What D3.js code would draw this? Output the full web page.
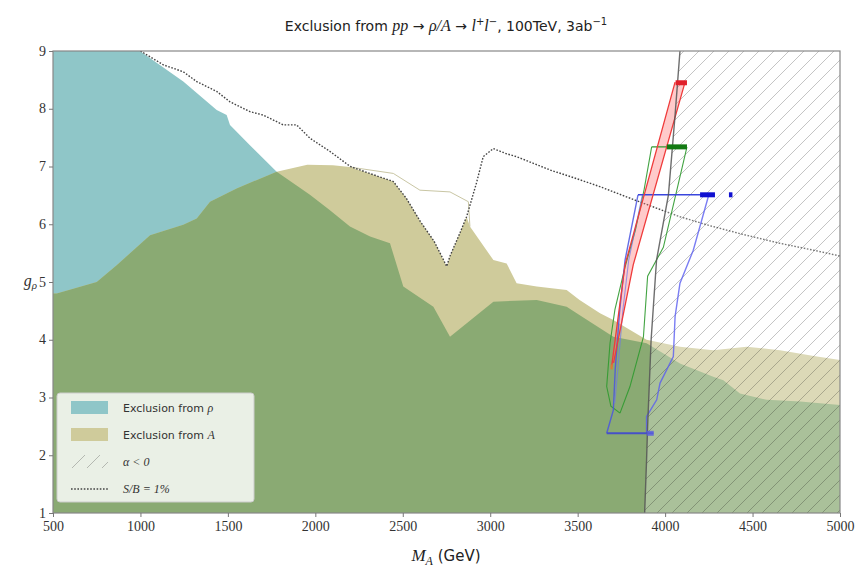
<!DOCTYPE html>
<html>
<head>
<meta charset="utf-8">
<script src="https://cdn.jsdelivr.net/npm/d3@7"></script>
<style>
  body { margin: 0; background: #fff; }
  svg { display: block; font-family: "DejaVu Sans", sans-serif; }
  .math { font-family: "Liberation Serif", serif; font-style: italic; }
</style>
</head>
<body>
<div id="container"></div>
<script>
// ---- data (M_A in GeV, coupling on y) ----
const xTicks = [500, 1000, 1500, 2000, 2500, 3000, 3500, 4000, 4500, 5000];
const yTicks = [1, 2, 3, 4, 5, 6, 7, 8, 9];

// exclusion from rho (upper edge of excluded band)
const rhoExcl = [[500,9],[997,9],[1245,8.47],[1436,7.98],[1493,7.89],[1512,7.72],[1626,7.37],[1779,6.91],
  [1870,6.72],[1969,6.51],[2080,6.25],[2198,5.96],[2313,5.79],[2427,5.67],[2503,4.92],[2675,4.57],[2770,4.05],
  [3018,4.66],[3266,4.69],[3437,4.57],[3550,4.35],[3704,4.05],[3894,3.94],[4085,3.59],[4275,3.36],[4333,3.30],
  [4428,3.07],[4581,2.96],[4772,2.93],[5000,2.87]];

// exclusion from A (filled edge, limited by S/B)
const aExcl = [[500,4.8],[521,4.8],[750,5.0],[864,5.29],[1055,5.81],[1245,5.99],[1322,6.1],[1398,6.39],[1550,6.62],
  [1779,6.91],[1954,7.03],[2100,7.02],[2198,6.99],[2320,6.87],[2446,6.74],[2520,6.45],[2600,6.05],[2680,5.7],
  [2730,5.4],[2751,5.27],[2770,5.45],[2820,5.8],[2865,6.13],[2884,5.96],[3018,5.38],[3094,5.32],[3151,4.98],
  [3266,4.92],[3437,4.86],[3511,4.69],[3628,4.46],[3704,4.34],[3894,4.0],[4085,3.88],[4275,3.82],[4466,3.88],
  [4657,3.82],[4850,3.72],[5000,3.65]];

// exclusion from A before the S/B cut (thin line)
const aLine = [[2198,6.99],[2446,6.88],[2598,6.59],[2770,6.56],[2875,6.39],[2884,5.96]];

// S/B = 1% contour
const sbLine = [[1000,9.0],[1131,8.76],[1245,8.64],[1322,8.47],[1436,8.30],[1512,8.12],[1626,7.95],[1702,7.89],
  [1817,7.72],[1893,7.72],[1969,7.49],[2084,7.26],[2200,7.0],[2320,6.87],[2446,6.74],[2520,6.45],[2600,6.05],
  [2680,5.7],[2730,5.4],[2751,5.27],[2770,5.45],[2820,5.8],[2865,6.13],[2920,6.7],[2960,7.17],[3018,7.31],
  [3094,7.22],[3151,7.17],[3342,6.94],[3513,6.77],[3628,6.65],[3800,6.45],[3950,6.28],[4085,6.13],[4250,5.98],
  [4450,5.82],[4657,5.67],[4850,5.55],[5000,5.45]];

// alpha < 0 boundary
const alphaEdge = [[3883,1],[3894,1.92],[3900,2.5],[3920,4.0],[3951,5.38],[4019,6.51],[4057,7.89],[4085,9]];

// benchmark contours
const redLeft = [[4057,8.46],[3771,5.3],[3694,3.53]];
const redRight = [[4114,8.46],[3818,5.3],[3705,3.6]];
const redMark = [[4060,8.45],[4125,8.45]];
const greenLeft = [[3923,7.34],[3880,6.6],[3830,5.9],[3770,5.25],[3713,4.52],[3685,3.94],[3666,3.19],[3690,2.85],[3742,2.73]];
const greenRight = [[4125,7.34],[4060,6.5],[3990,5.6],[3900,5.1],[3876,4.05],[3799,3.19],[3742,2.73]];
const greenTop = [[3923,7.34],[4125,7.34]];
const greenMark = [[4010,7.34],[4125,7.34]];
const blueLeft = [[3845,6.51],[3771,5.38],[3740,4.5],[3715,3.5],[3704,2.78],[3666,2.38]];
const blueLeft2 = [[3870,6.51],[3792,5.38],[3758,4.5],[3730,3.5],[3712,2.9]];
const blueRight = [[4250,6.51],[4161,5.55],[4085,4.98],[4057,4.4],[4047,3.71],[3971,3.25],[3952,2.96],[3894,2.67],[3894,2.38]];
const blueTop = [[3845,6.51],[4285,6.51]];
const blueBottom = [[3666,2.38],[3933,2.38]];
const blueMark = [[4200,6.51],[4285,6.51]];
const blueDot = [[4365,6.51],[4385,6.51]];
const blueMarkLow = [[3895,2.38],[3935,2.38]];
const orangeMark = [[3688,3.53],[3700,3.53]];

// ---- chart ----
const w = 863, h = 569;
const margin = {top: 51, left: 53, bottom: 56, right: 23};

const svg = d3.select("#container").append("svg").attr("width", w).attr("height", h);

const x = d3.scaleLinear().domain([500, 5000]).range([margin.left, w - margin.right]);
const y = d3.scaleLinear().domain([1, 9]).range([h - margin.bottom, margin.top]);

const defs = svg.append("defs");
defs.append("clipPath").attr("id", "plot")
  .append("rect").attr("x", x(500)).attr("y", y(9)).attr("width", x(5000) - x(500)).attr("height", y(1) - y(9));

const area = d3.area().x(d => x(d[0])).y0(y(1)).y1(d => y(d[1]));
const line = d3.line().x(d => x(d[0])).y(d => y(d[1]));

defs.append("clipPath").attr("id", "rhoClip")
  .append("path").attr("d", area(rhoExcl));

const hatch = defs.append("pattern").attr("id", "hatch").attr("patternUnits", "userSpaceOnUse")
  .attr("width", 15).attr("height", 15);
hatch.append("path").attr("d", "M-2,2 L2,-2 M0,15 L15,0 M13,17 L17,13")
  .attr("stroke", "#000").attr("stroke-opacity", 0.26).attr("stroke-width", 0.9);

const plot = svg.append("g").attr("clip-path", "url(#plot)");

plot.append("path").attr("d", area(rhoExcl)).attr("fill", "#8fc6c8");
plot.append("path").attr("d", area(aExcl)).attr("fill", "#cfcb9b");
plot.append("g").attr("clip-path", "url(#rhoClip)")
  .append("path").attr("d", area(aExcl)).attr("fill", "#8aaa73");

plot.append("path").attr("d", line(aLine)).attr("fill", "none")
  .attr("stroke", "#c9c6a4").attr("stroke-width", 1);

plot.append("path").attr("d", line(sbLine)).attr("fill", "none")
  .attr("stroke", "#444").attr("stroke-width", 1.4).attr("stroke-dasharray", "1.6,1.6");

// alpha < 0 region
const alphaPoly = alphaEdge.concat([[5000, 9], [5000, 1]]);
plot.append("path").attr("d", line(alphaPoly) + "Z").attr("fill", "#fff").attr("fill-opacity", 0.28);
plot.append("path").attr("d", line(alphaPoly) + "Z").attr("fill", "url(#hatch)");

// benchmark lines
function seg(data, color, width, op) {
  plot.append("path").attr("d", line(data)).attr("fill", "none")
    .attr("stroke", color).attr("stroke-width", width).attr("stroke-opacity", op == null ? 1 : op);
}
plot.append("path").attr("d", line(redLeft.concat(redRight.slice().reverse())) + "Z")
  .attr("fill", "#ff7a7a").attr("fill-opacity", 0.4);
seg(greenLeft, "#2f9a2f", 1.1, 0.9);
seg(greenRight, "#2f9a2f", 1.1, 0.9);
seg(greenTop, "#2f9a2f", 1.2);
seg(blueLeft, "#4a55e0", 1.4, 0.85);
seg(blueLeft2, "#6f78e8", 1.1, 0.7);
seg(blueRight, "#5a5ef0", 1.4, 0.8);
seg(blueTop, "#3a46dd", 1.6);
seg(blueBottom, "#4650c8", 2);
seg(redLeft, "#ef3b3b", 1.3);
seg(redRight, "#ef3b3b", 1.3);
seg(alphaEdge, "#555", 1.4, 0.85);
seg(redMark, "#e0202a", 5);
seg(greenMark, "#137a13", 5);
seg(blueMark, "#1010d0", 5);
seg(blueDot, "#1010d0", 5);
seg(blueMarkLow, "#5a5ee0", 5, 0.8);
seg(orangeMark, "#e07a30", 5);

// frame
svg.append("rect").attr("x", x(500)).attr("y", y(9)).attr("width", x(5000) - x(500)).attr("height", y(1) - y(9))
  .attr("fill", "none").attr("stroke", "#888").attr("stroke-width", 1.2);

// axes
const xAxis = d3.axisBottom(x).tickValues(xTicks).tickSize(4).tickPadding(4).tickFormat(d3.format("d"));
const yAxis = d3.axisLeft(y).tickValues(yTicks).tickSize(4).tickPadding(3).tickFormat(d3.format("d"));
const gx = svg.append("g").attr("transform", `translate(0,${y(1)})`).call(xAxis);
const gy = svg.append("g").attr("transform", `translate(${x(500)},0)`).call(yAxis);
[gx, gy].forEach(g => {
  g.select(".domain").remove();
  g.selectAll(".tick line").attr("stroke", "#777");
  g.selectAll(".tick text").attr("fill", "#333").style("font-family", "Liberation Serif, serif").style("font-size", "14px");
});
gy.selectAll(".tick text").attr("dy", "0.3em");

// title
const title = svg.append("text").attr("x", 446).attr("y", 31).attr("text-anchor", "middle")
  .attr("fill", "#222").style("font-size", "14px");
title.append("tspan").text("Exclusion from ");
title.append("tspan").attr("class", "math").style("font-size", "16px").text("pp");
title.append("tspan").text(" \u2192 ");
title.append("tspan").attr("class", "math").style("font-size", "16px").text("\u03c1/A");
title.append("tspan").text(" \u2192 ");
title.append("tspan").attr("class", "math").style("font-size", "16px").text("l");
title.append("tspan").attr("dy", -6).style("font-size", "10px").text("+");
title.append("tspan").attr("dy", 6).attr("class", "math").style("font-size", "16px").text("l");
title.append("tspan").attr("dy", -6).style("font-size", "10px").text("\u2212");
title.append("tspan").attr("dy", 6).text(", 100TeV, 3ab");
title.append("tspan").attr("dy", -6).style("font-size", "10px").text("\u22121");

// x label
const xl = svg.append("text").attr("x", 446).attr("y", 561).attr("text-anchor", "middle")
  .attr("fill", "#222").style("font-size", "15px");
xl.append("tspan").attr("class", "math").style("font-size", "17px").text("M");
xl.append("tspan").attr("class", "math").attr("dy", 4).style("font-size", "12px").text("A");
xl.append("tspan").attr("dy", -4).text(" (GeV)");

// y label
const yl = svg.append("text").attr("x", 37).attr("y", y(5) + 4).attr("text-anchor", "end")
  .attr("fill", "#333");
yl.append("tspan").attr("class", "math").style("font-size", "16px").text("g");
yl.append("tspan").attr("class", "math").attr("dy", 3).style("font-size", "11px").text("\u03c1");

// legend
const lg = svg.append("g").attr("transform", "translate(57,393)");
lg.append("rect").attr("width", 197).attr("height", 109).attr("rx", 3)
  .attr("fill", "#fff").attr("fill-opacity", 0.82).attr("stroke", "#ccc").attr("stroke-width", 1);
const items = [
  {kind: "fill", color: "#8fc6c8", label: "Exclusion from ", math: "\u03c1"},
  {kind: "fill", color: "#cfcb9b", label: "Exclusion from ", math: "A"},
  {kind: "hatch", label: "", math: "\u03b1 < 0"},
  {kind: "dot", label: "", math: "S/B = 1%"}
];
items.forEach((it, i) => {
  const yy = 15 + i * 27;
  if (it.kind === "fill") {
    lg.append("rect").attr("x", 14).attr("y", yy - 7).attr("width", 37).attr("height", 13).attr("fill", it.color);
  } else if (it.kind === "hatch") {
    lg.append("rect").attr("x", 14).attr("y", yy - 7).attr("width", 37).attr("height", 13).attr("fill", "url(#hatch)");
  } else {
    lg.append("line").attr("x1", 14).attr("x2", 51).attr("y1", yy).attr("y2", yy)
      .attr("stroke", "#444").attr("stroke-width", 1.4).attr("stroke-dasharray", "1.6,1.6");
  }
  const t = lg.append("text").attr("x", 66).attr("y", yy + 4).attr("fill", "#333").style("font-size", "11px");
  t.append("tspan").text(it.label);
  t.append("tspan").attr("class", "math").style("font-size", "12px").text(it.math);
});
</script>
</body>
</html>
